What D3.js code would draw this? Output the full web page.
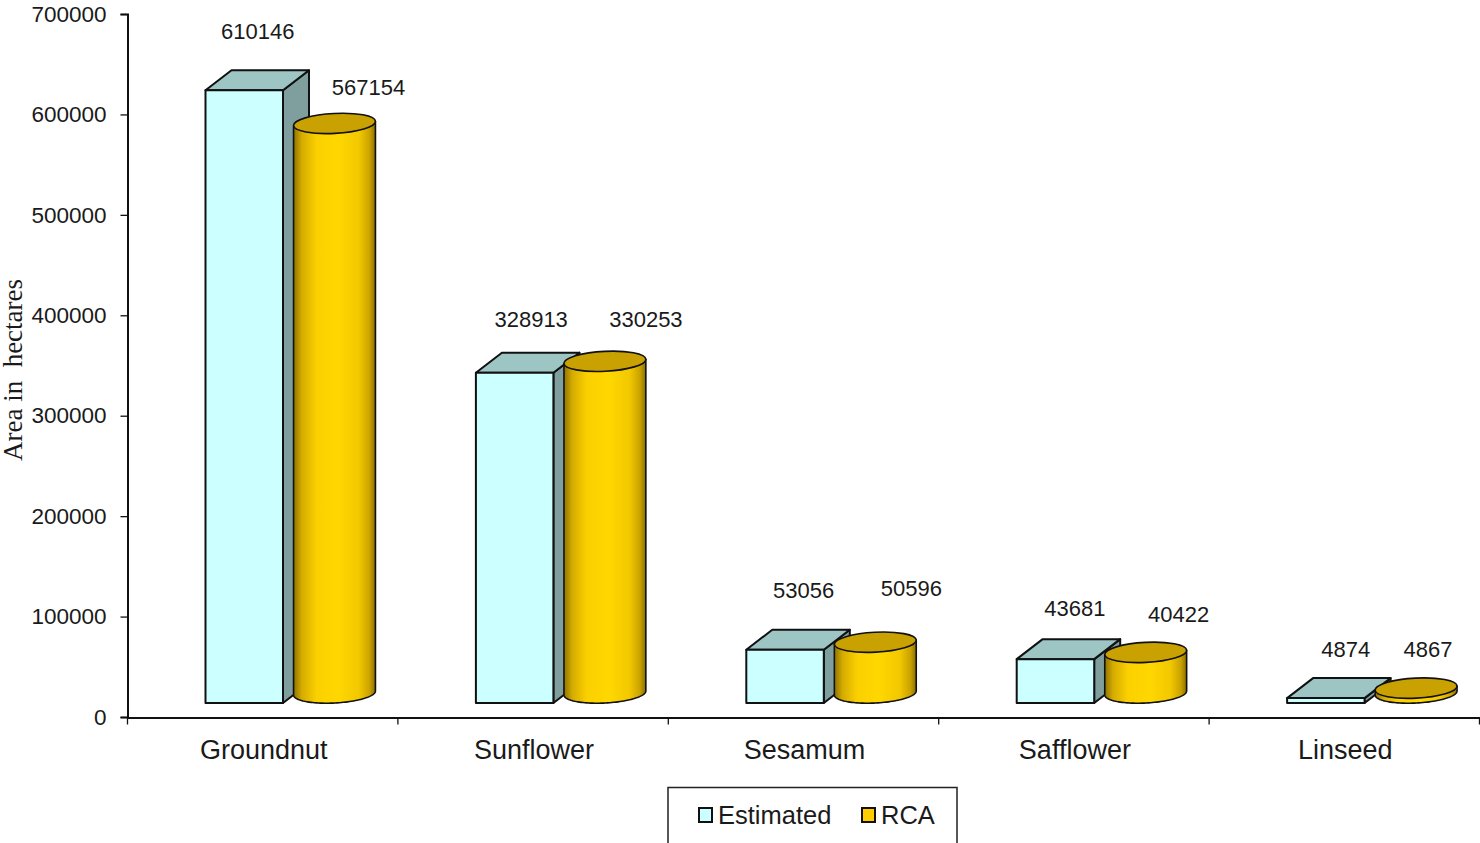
<!DOCTYPE html>
<html><head><meta charset="utf-8">
<script src="https://cdn.jsdelivr.net/npm/d3@7/dist/d3.min.js"></script>
<style>html,body{margin:0;padding:0;background:#fff;overflow:hidden}svg{display:block}
text{font-family:"Liberation Sans",Arial,sans-serif;fill:#1a1a1a}</style></head><body>
<script>
const categories=["Groundnut","Sunflower","Sesamum","Safflower","Linseed"];
const estimated=[610146,328913,53056,43681,4874];
const rca=[567154,330253,50596,40422,4867];
const yTicks=[0,100000,200000,300000,400000,500000,600000,700000];
const legendNames=["Estimated","RCA"];

const W=1480,H=843;
const svg=d3.select("body").append("svg").attr("width",W).attr("height",H);
const x=d3.scaleBand().domain(categories).range([127.5,1479.5]);
const y=d3.scaleLinear().domain([0,700000]).range([717,14]);
const band=x.bandwidth();
const floorGap=14, boxW=77.5, boxOff=78, depthX=26, depthY=20, cylOff=166, cylW=82, ry=10, tilt=-3;
const C={front:"#ccffff",top:"#9cc5c3",side:"#7f9f9f",cylTop:"#c9a100",line:"#111"};

const defs=svg.append("defs");
const grad=defs.append("linearGradient").attr("id","cylGrad");
[[0,"#8f7200"],[0.1,"#d4ab00"],[0.28,"#fbd000"],[0.55,"#ffd700"],[0.8,"#f2c800"],[0.93,"#c9a200"],[1,"#8a6e00"]].forEach(s=>grad.append("stop").attr("offset",s[0]).attr("stop-color",s[1]));

// axes
const yAxis=d3.axisLeft(y).tickValues(yTicks).tickFormat(d3.format("d")).tickSize(7).tickPadding(14);
const ya=svg.append("g").attr("transform","translate(127.5,0)").call(yAxis);
ya.selectAll("text").style("font-size","22.5px").attr("dy","0.32em");
const xAxis=d3.axisBottom(x).tickValues([]).tickSize(0);
const xa=svg.append("g").attr("transform","translate(0,717.5)").call(xAxis);
const xEdges=d3.range(categories.length+1).map(i=>127.5+i*band);
xa.selectAll("line.edge").data(xEdges).enter().append("line").attr("class","edge")
  .attr("x1",d=>d).attr("x2",d=>d).attr("y1",0).attr("y2",7);
svg.selectAll(".domain").attr("stroke","#111").attr("stroke-width",2);
svg.selectAll(".edge,.tick line").attr("stroke","#111").attr("stroke-width",1.3);
svg.selectAll(".cat").data(categories).enter().append("text").attr("class","cat")
  .attr("x",d=>x(d)+band/2+1).attr("y",758.5).attr("text-anchor","middle").style("font-size","27px").text(d=>d);

// y title
svg.append("text").attr("transform","translate(22,370) rotate(-90)").attr("text-anchor","middle")
  .style("font-family","'Liberation Serif',serif").style("font-size","27px").style("white-space","pre").text("Area in  hectares");

// 3D boxes
const h=v=>y(0)-y(v);
const base=y(0)-floorGap;
const boxes=svg.selectAll(".box").data(categories.map((c,i)=>({c,v:estimated[i]}))).enter().append("g").attr("class","box")
  .attr("stroke",C.line).attr("stroke-width",2).attr("stroke-linejoin","round");
boxes.append("path").attr("fill",C.side).attr("d",d=>{const l=x(d.c)+boxOff+boxW,t=base-h(d.v);
  return `M${l},${t}L${l+depthX},${t-depthY}L${l+depthX},${base-depthY}L${l},${base}Z`;});
boxes.append("path").attr("fill",C.top).attr("d",d=>{const l=x(d.c)+boxOff,t=base-h(d.v);
  return `M${l},${t}L${l+depthX},${t-depthY}L${l+boxW+depthX},${t-depthY}L${l+boxW},${t}Z`;});
boxes.append("rect").attr("fill",C.front).attr("x",d=>x(d.c)+boxOff).attr("y",d=>base-h(d.v)).attr("width",boxW).attr("height",d=>h(d.v));

// cylinders: wall outline traced with d3.line along the tilted ellipses
const cylBase=base-10;
const rad=tilt*Math.PI/180;
const ang=d3.range(0,61).map(i=>Math.PI*i/60);
const ell=(cx,cy,a)=>{const ex=-cylW/2*Math.cos(a),ey=ry*Math.sin(a);
  return [cx+ex*Math.cos(rad)-ey*Math.sin(rad),cy+ex*Math.sin(rad)+ey*Math.cos(rad)];};
const lineGen=d3.line();
const cyl=svg.selectAll(".cyl").data(categories.map((c,i)=>({c,v:rca[i]}))).enter().append("g").attr("class","cyl")
  .attr("stroke",C.line).attr("stroke-width",1.6).attr("stroke-linejoin","round");
cyl.append("path").attr("fill","url(#cylGrad)").attr("d",d=>{
  const cx=x(d.c)+cylOff+cylW/2,top=cylBase-h(d.v);
  const bottom=ang.map(a=>ell(cx,cylBase,a));
  const topR=ell(cx,top,Math.PI),topL=ell(cx,top,0);
  return lineGen([topL,...bottom,topR])+"Z";});
cyl.append("ellipse").attr("fill",C.cylTop).attr("rx",cylW/2).attr("ry",ry)
  .attr("transform",d=>`translate(${x(d.c)+cylOff+cylW/2},${cylBase-h(d.v)}) rotate(${tilt})`);

// value labels: manual offsets from each bar's top, as placed in the reference
const estDx=[13.5,16.5,18.5,19.5,20];
const estDy=[-59,-53.5,-59,-51,-49];
const rcaDx=[34,41,36,33,12];
const rcaDy=[-36.5,-42.5,-54,-38,-39];
const labelStyle=s=>s.attr("text-anchor","middle").style("font-size","22px").attr("dy","0.35em");
estimated.forEach((v,i)=>{
  svg.append("text").call(labelStyle).attr("x",x(categories[i])+boxOff+boxW/2+estDx[i]).attr("y",base-h(v)+estDy[i]).text(v);
});
rca.forEach((v,i)=>{
  svg.append("text").call(labelStyle).attr("x",x(categories[i])+cylOff+cylW/2+rcaDx[i]).attr("y",cylBase-h(v)+rcaDy[i]).text(v);
});

// legend
svg.append("path").attr("d","M668,843V787.5H957V843").attr("fill","none").attr("stroke","#222").attr("stroke-width",1.5);
const lx=[699,862], tx=[718,881], lc=[C.front,"#ffcc00"];
legendNames.forEach((n,i)=>{
  svg.append("rect").attr("x",lx[i]).attr("y",808).attr("width",13).attr("height",14).attr("fill",lc[i]).attr("stroke","#111").attr("stroke-width",2);
  svg.append("text").attr("x",tx[i]).attr("y",824).style("font-size","25.5px").text(n);
});
</script></body></html>
